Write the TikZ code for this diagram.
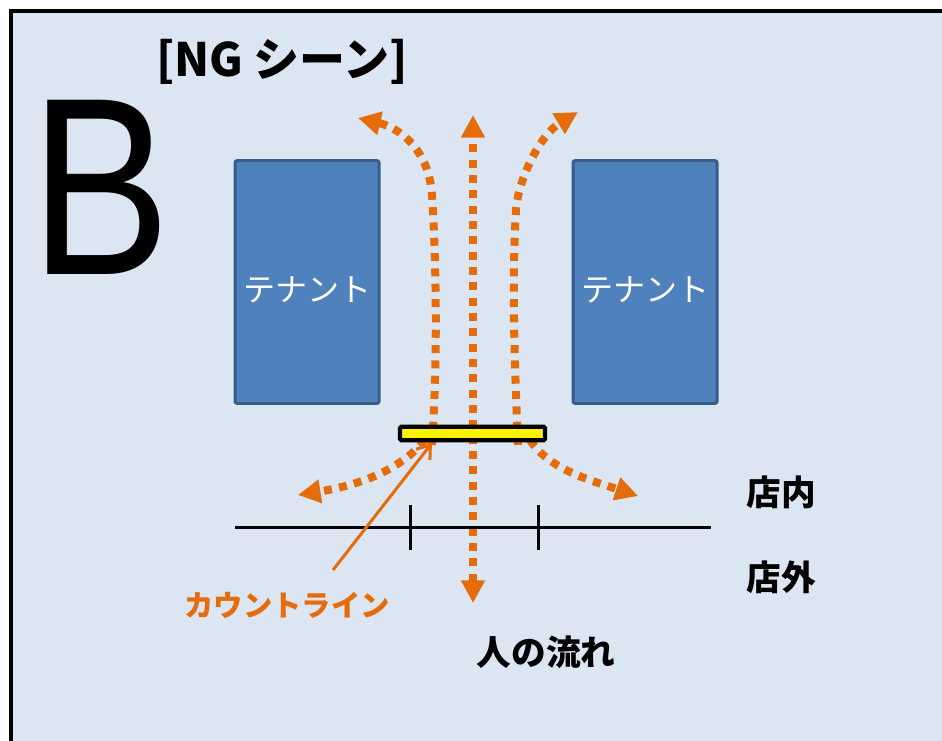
\documentclass[tikz,border=0pt]{standalone}
\usepackage{fontspec}
\setmainfont{Noto Sans CJK JP}
\newfontfamily\bigfont{Liberation Sans}
\usetikzlibrary{arrows.meta}
\definecolor{bgblue}{HTML}{DCE6F2}
\definecolor{tenantfill}{HTML}{4F81BD}
\definecolor{tenantline}{HTML}{385D8A}
\definecolor{flow}{HTML}{E46C0A}
\tikzset{
  >={Triangle[length=17pt,width=17pt]},
  tenant/.style={draw=tenantline, line width=2.25pt, fill=tenantfill, rounded corners=1.5pt,
    minimum width=108pt, minimum height=182pt, text=white, font=\fontsize{24}{24}\selectfont},
  countbar/.style={draw=black, line width=3.2pt, fill=yellow, rounded corners=1pt,
    minimum width=108.75pt, minimum height=10pt, inner sep=0pt},
  flowline/.style={flow, line width=6pt, dash pattern=on 6pt off 5.5pt, ->},
  bigtext/.style={font=\bfseries\fontsize{26}{26}\selectfont}
}
\begin{document}
\begin{tikzpicture}[x=0.75pt,y=-0.75pt]
        \useasboundingbox (0,0) rectangle (942,740);
        % Frame
        \fill[white] (0,0) rectangle (942,740);
        \draw[line width=3.5pt, fill=bgblue] (11,11) rectangle (960,760);
        % Titles
        \node[font=\bigfont\fontsize{190}{190}\selectfont, xscale=0.83, inner sep=0pt] (letter) at (101,187) {B};
        \node[font=\bfseries\fontsize{34.5}{34.5}\selectfont] (title) at (282,62) {[NG シーン]};
        % Tenants
        \node[tenant] (tenantL) at (307,282) {\raisebox{-6pt}[\height][\depth]{テナント}};
        \node[tenant] (tenantR) at (645,282) {\raisebox{-6pt}[\height][\depth]{テナント}};
        % Flow of people
        \coordinate (midtop) at (473,115);
        \coordinate (midbot) at (473,603);
        \coordinate (upL) at (358,118);
        \coordinate (upR) at (578,112);
        \coordinate (downL) at (298,495);
        \coordinate (downR) at (638,496);
        \draw[flowline, <->] (midbot) -- (midtop);
        \draw[flowline] (432,445) .. controls (438,350) and (436,260) .. (432,195)
            .. controls (429,150) and (400,128) .. (upL);
        \draw[flowline] (518,445) .. controls (514,350) and (512,280) .. (516,210)
            .. controls (518,180) and (540,135) .. (upR);
        \draw[flowline] (425,440) .. controls (400,470) and (360,485) .. (downL);
        \draw[flowline] (530,440) .. controls (550,470) and (590,480) .. (downR);
        % Count line
        \node[countbar] (bar) at (472.5,433.5) {};
        % Shop boundary
        \coordinate (lineL) at (235,527);
        \coordinate (lineR) at (711,527);
        \coordinate (tickAt) at (410,505);
        \coordinate (tickAb) at (410,550);
        \coordinate (tickBt) at (538,505);
        \coordinate (tickBb) at (538,550);
        \draw[line width=2.25pt] (lineL) -- (lineR);
        \draw[line width=2.25pt] (tickAt) -- (tickAb);
        \draw[line width=2.25pt] (tickBt) -- (tickBb);
        % Labels
        \node[bigtext] (inside) at (781,492) {店内};
        \node[bigtext] (outside) at (781,577) {店外};
        \node[bigtext] (flowlbl) at (546,652) {人の流れ};
        \node[font=\bfseries\fontsize{22}{22}\selectfont, text=flow] (countlbl) at (287,605) {カウントライン};
        \coordinate (countstart) at (333,570);
        \coordinate (countend) at (432,443);
        \draw[flow, line width=2.25pt, -{Straight Barb[length=9pt,width=13pt]}] (countstart) -- (countend);
    \end{tikzpicture}
\end{document}
